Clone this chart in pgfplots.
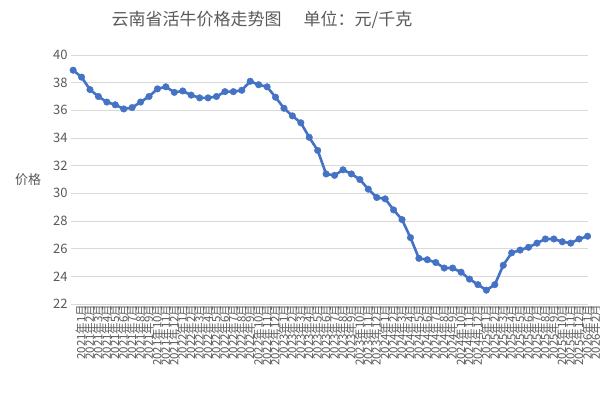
\documentclass[border=0pt]{standalone}
\usepackage{fontspec}
\setmainfont{Noto Sans CJK SC}
\usepackage{pgfplots}
\pgfplotsset{compat=1.18}
\definecolor{lineblue}{HTML}{4472C4}
\definecolor{txtgray}{HTML}{595959}
\definecolor{gridgray}{HTML}{D9D9D9}
\begin{document}
\begin{tikzpicture}
\path[use as bounding box] (0,0) rectangle (600bp,396bp);
\begin{axis}[
  at={(71bp,92bp)}, anchor=south west,
  scale only axis,
  width=517bp, height=249bp,
  xmin=-0.25, xmax=61.05,
  ymin=22, ymax=40,
  ytick={22,24,...,40},
  xtick={0,...,61},
  xticklabels={2021年1月,2021年2月,2021年3月,2021年4月,2021年5月,2021年6月,2021年7月,2021年8月,2021年9月,2021年10月,2021年11月,2021年12月,
  2022年1月,2022年2月,2022年3月,2022年4月,2022年5月,2022年6月,2022年7月,2022年8月,2022年9月,2022年10月,2022年11月,2022年12月,
  2023年1月,2023年2月,2023年3月,2023年4月,2023年5月,2023年6月,2023年7月,2023年8月,2023年9月,2023年10月,2023年11月,2023年12月,
  2024年1月,2024年2月,2024年3月,2024年4月,2024年5月,2024年6月,2024年7月,2024年8月,2024年9月,2024年10月,2024年11月,2024年12月,
  2025年1月,2025年2月,2025年3月,2025年4月,2025年5月,2025年6月,2025年7月,2025年8月,2025年9月,2025年10月,2025年11月,2025年12月,
  2026年1月,2026年2月},
  xticklabel style={rotate=90, anchor=east, font=\fontsize{11.5bp}{12bp}\selectfont, text=txtgray, inner sep=0.5bp, yshift=-8bp},
  yticklabel style={font=\fontsize{13bp}{14bp}\selectfont, text=txtgray},
  /pgf/number format/assume math mode=true,
  ymajorgrids, grid style={gridgray, line width=0.9bp},
  axis line style={draw=none},
  major tick length=0pt,
  clip=false,
]
\addplot[lineblue, line width=2.6bp, mark=*, mark size=3.3bp, mark options={fill=lineblue, draw=lineblue, line width=0.4bp, solid}]
coordinates {
(0,38.9)(1,38.4)(2,37.5)(3,37.0)(4,36.6)(5,36.4)(6,36.1)(7,36.2)(8,36.6)(9,37.0)
(10,37.55)(11,37.7)(12,37.3)(13,37.4)(14,37.1)(15,36.9)(16,36.9)(17,37.0)(18,37.35)(19,37.35)
(20,37.45)(21,38.1)(22,37.85)(23,37.7)(24,36.95)(25,36.15)(26,35.6)(27,35.1)(28,34.05)(29,33.1)
(30,31.4)(31,31.3)(32,31.7)(33,31.4)(34,31.0)(35,30.3)(36,29.7)(37,29.6)(38,28.8)(39,28.1)
(40,26.8)(41,25.3)(42,25.2)(43,25.0)(44,24.6)(45,24.6)(46,24.3)(47,23.8)(48,23.4)(49,23.0)
(50,23.4)(51,24.8)(52,25.7)(53,25.9)(54,26.1)(55,26.4)(56,26.7)(57,26.7)(58,26.5)(59,26.4)
(60,26.7)(61,26.9)
};
\end{axis}
\node[text=txtgray, font=\fontsize{17bp}{19bp}\selectfont] at (262bp,376bp) {云南省活牛价格走势图\hspace{22bp}单位：元/千克};
\node[text=txtgray, font=\fontsize{13bp}{14bp}\selectfont] at (28bp,216bp) {价格};
\end{tikzpicture}
\end{document}
